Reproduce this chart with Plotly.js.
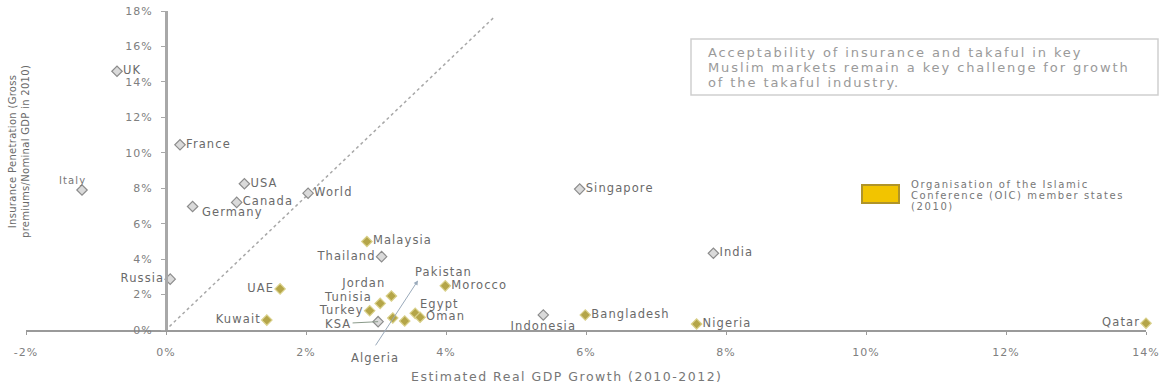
<!DOCTYPE html>
<html>
<head>
<meta charset="utf-8">
<script src="https://cdn.plot.ly/plotly-3.0.1.min.js"></script>
<style>
  html, body { margin: 0; padding: 0; background: #fff; }
  #chart { width: 1160px; height: 392px; }
  svg text { letter-spacing: 1.1px; }
  .xtick text, .ytick text { letter-spacing: 1px; }
</style>
</head>
<body>
<div id="chart"></div>
<script>
// ---- Data ----
const countries = ["UK","Italy","France","USA","World","Canada","Germany","Russia",
  "Malaysia","Thailand","UAE","Kuwait","Jordan","Tunisia","Turkey","KSA",
  "Pakistan","Algeria","Egypt","Oman","Morocco","Singapore","India",
  "Indonesia","Bangladesh","Nigeria","Qatar"];
// Estimated real GDP growth 2010-2012 (%)
const gdpGrowth = [-0.70, -1.20, 0.20, 1.12, 2.03, 1.01, 0.38, 0.06,
  2.87, 3.08, 1.63, 1.44, 3.22, 3.06, 2.91, 3.03,
  3.24, 3.41, 3.56, 3.63, 3.99, 5.91, 7.82,
  5.39, 5.99, 7.58, 14.0];
// Insurance penetration 2010 (% of nominal GDP)
const penetration = [14.6, 7.9, 10.45, 8.25, 7.72, 7.2, 6.97, 2.87,
  4.99, 4.14, 2.32, 0.56, 1.92, 1.5, 1.09, 0.47,
  0.68, 0.51, 0.94, 0.72, 2.49, 7.95, 4.33,
  0.85, 0.85, 0.34, 0.38];
// Drawn in OIC colour in the picture (1) or grey (0)
const oicColoured = [0,0,0,0,0,0,0,0,
  1,0,1,1,1,1,1,0,
  1,1,1,1,1,0,0,
  0,1,1,1];
const xTickVals = [-2,0,2,4,6,8,10,12,14];
const xTickText = ["-2%","0%","2%","4%","6%","8%","10%","12%","14%"];
const yTickVals = [0,2,4,6,8,10,12,14,16,18];
const yTickText = ["0%","2%","4%","6%","8%","10%","12%","14%","16%","18%"];
const refLineX = [0.05, 4.7];
const refLineY = [0.2, 17.7];
const noteLines = ["Acceptability of insurance and takaful in key",
  "Muslim markets remain a key challenge for growth",
  "of the takaful industry."];
const legendLines = ["Organisation of the Islamic",
  "Conference (OIC) member states", "(2010)"];
const xTitle = "Estimated Real GDP Growth (2010-2012)";
const yTitleLines = ["Insurance Penetration (Gross", "premiums/Nominal GDP in 2010)"];

// ---- Styling / label placement ----
const labelPos = {
  "UK":"middle right","France":"middle right","USA":"middle right","World":"middle right",
  "Canada":"middle right","Russia":"middle left",
  "Malaysia":"middle right","Thailand":"middle left","UAE":"middle left","Kuwait":"middle left",
  "Jordan":"top left","Turkey":"middle left",
  "Oman":"middle right","Morocco":"middle right","Singapore":"middle right",
  "India":"middle right","Indonesia":"bottom center","Bangladesh":"middle right",
  "Nigeria":"middle right","Qatar":"middle left"
};
// labels placed by hand: [xanchor, xshift, yshift]
const manualLabels = {
  "Germany": ["left", 7, -6],
  "Tunisia": ["right", -6, 6],
  "Egypt": ["left", 3, 9],
  "Italy": ["center", -10, 9]
};
const annotatedSeparately = ["Italy","KSA","Pakistan","Algeria","Germany","Tunisia","Egypt"];

const FONT = "DejaVu Sans, Arial, sans-serif";
const LABEL_FONT = { family: FONT, size: 11.5, color: "#6a6a6a" };
const L = 26, R = 14, T = 11, B = 62, W = 1160, H = 392;
const pw = W - L - R, ph = H - T - B;
const px = x => (x - L) / pw;
const py = y => (H - B - y) / ph;
const spaced = (t, s) => '<span style="letter-spacing:' + s + 'px">' + t + '</span>';

function buildTrace(flag, fill, line, name) {
  const idx = countries.map((c, i) => i).filter(i => oicColoured[i] === flag);
  return {
    type: "scatter", mode: "markers+text", name: name,
    x: idx.map(i => gdpGrowth[i]),
    y: idx.map(i => penetration[i]),
    text: idx.map(i => annotatedSeparately.includes(countries[i]) ? "" : countries[i]),
    textposition: idx.map(i => labelPos[countries[i]] || "middle right"),
    textfont: LABEL_FONT,
    marker: { symbol: "diamond", size: 8, color: fill, line: { color: line, width: 1.2 } },
    cliponaxis: false, hoverinfo: "skip", showlegend: false
  };
}

const traces = [
  { type: "scatter", mode: "lines", x: refLineX, y: refLineY,
    line: { color: "#a8a8a8", width: 1.5, dash: "dot" }, hoverinfo: "skip", showlegend: false },
  buildTrace(0, "#dadada", "#8c8c8c", "Other"),
  buildTrace(1, "#b4a548", "#d9d08a", "OIC")
];

const annotations = [];
Object.keys(manualLabels).forEach(name => {
  const i = countries.indexOf(name);
  const [xa, xs, ys] = manualLabels[name];
  annotations.push({ x: gdpGrowth[i], y: penetration[i], text: name, showarrow: false,
    xanchor: xa, yanchor: "middle", xshift: xs, yshift: ys,
    font: name === "Italy" ? { family: FONT, size: 10, color: "#777" } : LABEL_FONT });
});
{
  const i = countries.indexOf("KSA");
  annotations.push({ x: gdpGrowth[i], y: penetration[i], text: "KSA", showarrow: true, ax: -40, ay: 2,
    arrowhead: 0, arrowwidth: 1, arrowcolor: "#8a9a8a", font: LABEL_FONT });
}
annotations.push({ x: 3.6, y: 2.8, axref: "x", ayref: "y", ax: 2.98, ay: -0.95, text: "",
  showarrow: true, arrowhead: 2, arrowsize: 0.9, arrowwidth: 1, arrowcolor: "#9aaabb" });
annotations.push({ x: 3.97, y: 3.3, text: "Pakistan", showarrow: false, font: LABEL_FONT });
annotations.push({ xref: "paper", yref: "paper", x: px(375), y: py(358), xanchor: "center", yanchor: "middle",
  text: "Algeria", showarrow: false, font: LABEL_FONT });

const noteY = [52, 67, 82];
noteLines.forEach((t, i) => annotations.push({
  xref: "paper", yref: "paper", x: px(706), y: py(noteY[i]), xanchor: "left", yanchor: "middle",
  text: spaced(t, 1.9), showarrow: false, font: { family: FONT, size: 13, color: "#9a9a9a" } }));
const legY = [184, 195, 206];
legendLines.forEach((t, i) => annotations.push({
  xref: "paper", yref: "paper", x: px(909), y: py(legY[i]), xanchor: "left", yanchor: "middle",
  text: spaced(t, 1.6), showarrow: false, font: { family: FONT, size: 10, color: "#777" } }));
annotations.push({ xref: "paper", yref: "paper", x: px(566), y: py(376), xanchor: "center", yanchor: "middle",
  text: spaced(xTitle, 1.5), showarrow: false, font: { family: FONT, size: 12.5, color: "#777" } });
annotations.push({ xref: "paper", yref: "paper", x: px(19), y: py(152), xanchor: "center", yanchor: "middle",
  text: yTitleLines.map(t => spaced(t, 0.3)).join("<br>"), textangle: -90, showarrow: false,
  font: { family: FONT, size: 10, color: "#6a6a6a" } });

const shapes = [
  { type: "rect", xref: "paper", yref: "paper", x0: px(691), x1: px(1158), y0: py(95), y1: py(39),
    line: { color: "#cfcfcf", width: 1.5 }, fillcolor: "rgba(0,0,0,0)" },
  { type: "rect", xref: "paper", yref: "paper", x0: px(862), x1: px(899), y0: py(203), y1: py(185),
    line: { color: "#b09428", width: 2 }, fillcolor: "#f2c400" }
];

const layout = {
  width: W, height: H,
  margin: { l: L, r: R, t: T, b: B, pad: 0 },
  paper_bgcolor: "#fff", plot_bgcolor: "#fff",
  showlegend: false,
  xaxis: {
    range: [-2, 14], tickvals: xTickVals, ticktext: xTickText,
    showgrid: false, zeroline: false, showline: true, linecolor: "#9a9a9a", linewidth: 2,
    ticks: "outside", ticklen: 3, tickcolor: "#9a9a9a", ticklabelstandoff: 8,
    tickfont: { family: FONT, size: 11, color: "#808080" }, fixedrange: true
  },
  yaxis: {
    range: [0, 18], tickvals: yTickVals, ticktext: yTickText,
    anchor: "free", position: 0.125,
    showgrid: false, zeroline: false, showline: true, linecolor: "#a8a8a8", linewidth: 2.5,
    ticks: "outside", ticklen: 4, tickcolor: "#a8a8a8", ticklabelstandoff: 6,
    tickfont: { family: FONT, size: 11, color: "#808080" }, fixedrange: true
  },
  annotations: annotations,
  shapes: shapes
};

Plotly.newPlot("chart", traces, layout, { staticPlot: true, displayModeBar: false });
</script>
</body>
</html>
